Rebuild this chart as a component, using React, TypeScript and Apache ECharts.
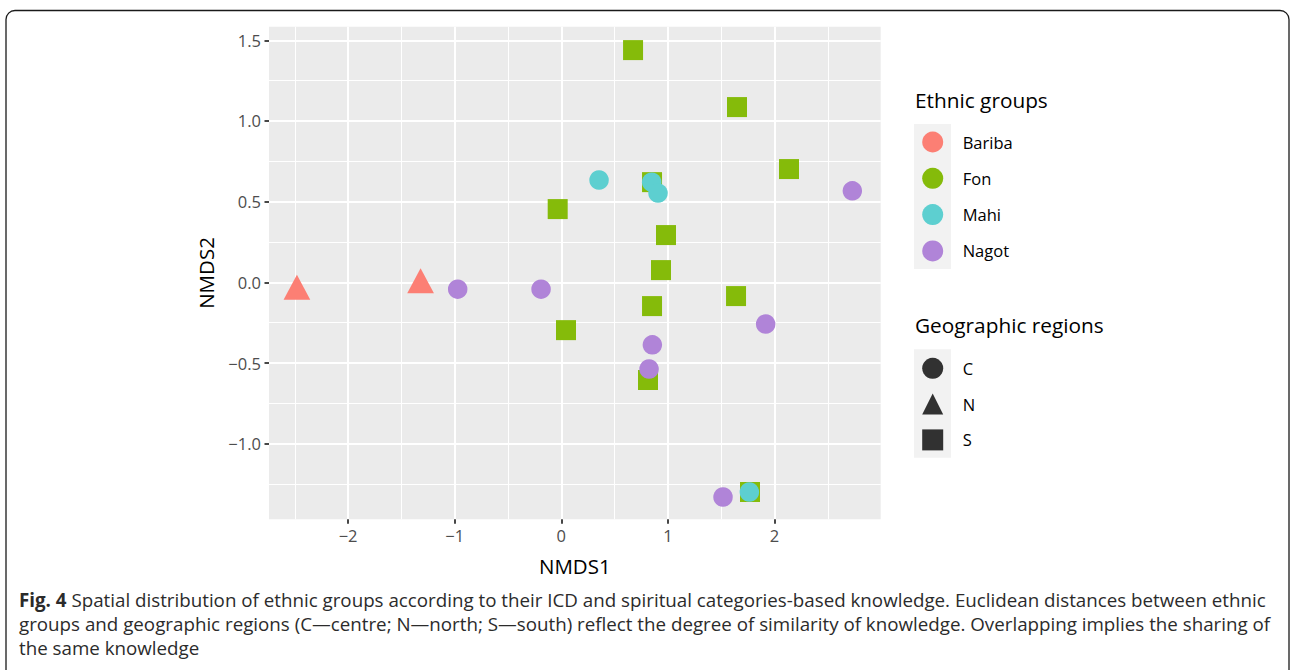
import React, { useEffect, useRef } from "react";
import * as echarts from "echarts";

// ---- data ----
const GROUPS = ["Bariba", "Fon", "Mahi", "Nagot"];
const GROUP_COLORS = ["#FC7F74", "#85BB0A", "#5DCFD0", "#B084D8"];
const GROUP_SYMBOLS = ["triangle", "rect", "circle", "circle"];
const REGIONS = ["C", "N", "S"];
const REGION_SYMBOLS = ["circle", "triangle", "rect"];

const baribaPoints = [
  [-2.48, -0.03],
  [-1.32, 0.01],
];
const fonPoints = [
  [0.673, 1.439],
  [1.648, 1.086],
  [2.136, 0.702],
  [0.851, 0.621],
  [-0.034, 0.454],
  [0.982, 0.293],
  [0.935, 0.076],
  [0.851, -0.147],
  [1.639, -0.085],
  [0.044, -0.296],
  [0.813, -0.605],
  [1.77, -1.299],
];
const mahiPoints = [
  [0.354, 0.634],
  [0.848, 0.621],
  [0.907, 0.553],
  [1.764, -1.299],
];
const nagotPoints = [
  [-0.972, -0.042],
  [-0.19, -0.042],
  [2.73, 0.567],
  [1.917, -0.258],
  [0.854, -0.387],
  [0.823, -0.537],
  [1.517, -1.33],
];
const GROUP_DATA = [baribaPoints, fonPoints, mahiPoints, nagotPoints];

const X_MIN = -2.742;
const X_MAX = 2.996;
const Y_MIN = -1.468;
const Y_MAX = 1.584;
const X_TICKS = [-2, -1, 0, 1, 2];
const X_MINOR = [-2.5, -1.5, -0.5, 0.5, 1.5, 2.5];
const Y_TICKS = [-1, -0.5, 0, 0.5, 1, 1.5];
const Y_MINOR = [-1.25, -0.75, -0.25, 0.25, 0.75, 1.25];

const CAPTION_LINES = [
  "Spatial distribution of ethnic groups according to their ICD and spiritual categories-based knowledge. Euclidean distances between ethnic",
  "groups and geographic regions (C\u2014centre; N\u2014north; S\u2014south) reflect the degree of similarity of knowledge. Overlapping implies the sharing of",
  "the same knowledge",
];

const FONT = "'Open Sans', 'Noto Sans', sans-serif";
const minus = (s: string) => s.replace("-", "\u2212");

export default function App() {
  const ref = useRef<HTMLDivElement>(null);

  useEffect(() => {
    if (!ref.current) return;
    const chart = echarts.init(ref.current, undefined, { renderer: "svg" });

    const gridL = 269;
    const gridT = 26.7;
    const gridW = 611.7;
    const gridH = 492.6;

    const tickStyle = { show: true, length: 4.5, lineStyle: { color: "#333333", width: 1.8 } };
    const noLine = { show: false, onZero: false };

    const groupSeries = GROUPS.map((g, i) => ({
      name: g,
      type: "scatter",
      xAxisIndex: 0,
      yAxisIndex: 0,
      data: GROUP_DATA[i],
      symbol: GROUP_SYMBOLS[i],
      symbolSize: GROUP_SYMBOLS[i] === "triangle" ? [26.7, 25] : GROUP_SYMBOLS[i] === "rect" ? 20 : 19.5,
      itemStyle: { color: GROUP_COLORS[i], opacity: 1 },
      z: 3,
      silent: true,
    }));

    const regionSeries = REGIONS.map((r, i) => ({
      name: r,
      type: "scatter",
      xAxisIndex: 0,
      yAxisIndex: 0,
      data: [],
      symbol: REGION_SYMBOLS[i],
      itemStyle: { color: "#000000" },
    }));

    const option: any = {
      animation: false,
      backgroundColor: "#ffffff",
      textStyle: { fontFamily: FONT },
      grid: {
        left: gridL,
        top: gridT,
        width: gridW,
        height: gridH,
        show: true,
        backgroundColor: "#EBEBEB",
        borderWidth: 0,
        containLabel: false,
        outerBoundsMode: "none",
      },
      xAxis: [
        {
          type: "value",
          gridIndex: 0,
          min: X_MIN,
          max: X_MAX,
          position: "bottom",
          axisLine: noLine,
          axisTick: { ...tickStyle, customValues: X_TICKS },
          axisLabel: {
            customValues: X_TICKS,
            margin: 8,
            fontSize: 16.5,
            color: "#4D4D4D",
            fontFamily: FONT,
            formatter: (v: number) => minus(String(v)),
          },
          splitLine: { show: true, lineStyle: { color: "#ffffff", width: 2 } },
          name: "NMDS1",
          nameLocation: "middle",
          nameGap: 36,
          nameTextStyle: { fontSize: 20.5, color: "#000000", fontFamily: FONT },
        },
        {
          type: "value",
          gridIndex: 0,
          min: X_MIN,
          max: X_MAX,
          position: "bottom",
          axisLine: noLine,
          axisTick: { show: false, customValues: X_MINOR },
          axisLabel: { show: false, customValues: X_MINOR },
          splitLine: { show: true, lineStyle: { color: "#ffffff", width: 1 } },
        },
      ],
      yAxis: [
        {
          type: "value",
          gridIndex: 0,
          min: Y_MIN,
          max: Y_MAX,
          position: "left",
          axisLine: noLine,
          axisTick: { ...tickStyle, customValues: Y_TICKS },
          axisLabel: {
            customValues: Y_TICKS,
            margin: 8,
            fontSize: 16.5,
            color: "#4D4D4D",
            fontFamily: FONT,
            formatter: (v: number) => minus(v.toFixed(1)),
          },
          splitLine: { show: true, lineStyle: { color: "#ffffff", width: 2 } },
          name: "NMDS2",
          nameLocation: "middle",
          nameGap: 53,
          nameRotate: 90,
          nameTextStyle: { fontSize: 20.5, color: "#000000", fontFamily: FONT },
        },
        {
          type: "value",
          gridIndex: 0,
          min: Y_MIN,
          max: Y_MAX,
          position: "left",
          axisLine: noLine,
          axisTick: { show: false, customValues: Y_MINOR },
          axisLabel: { show: false, customValues: Y_MINOR },
          splitLine: { show: true, lineStyle: { color: "#ffffff", width: 1 } },
        },
      ],
      legend: [
        {
          data: GROUPS,
          orient: "vertical",
          left: 922.2,
          top: 131.5,
          padding: 0,
          icon: "circle",
          itemWidth: 21,
          itemHeight: 21,
          itemGap: 15.3,
          selectedMode: false,
          textStyle: { fontSize: 16.5, color: "#000000", fontFamily: FONT, padding: [0, 0, 0, 14.5] },
        },
        {
          data: REGIONS,
          orient: "vertical",
          left: 922.2,
          top: 357.8,
          padding: 0,
          itemWidth: 21,
          itemHeight: 21,
          itemGap: 14.8,
          selectedMode: false,
          textStyle: { fontSize: 16.5, color: "#000000", fontFamily: FONT, padding: [0, 0, 0, 14.5] },
        },
      ],
      graphic: [
        {
          type: "rect",
          z: -10,
          silent: true,
          shape: { x: 6, y: 10.5, width: 1283, height: 700, r: [9, 9, 0, 0] },
          style: { fill: "none", stroke: "#1a1a1a", lineWidth: 1.3 },
        },
        {
          type: "rect",
          z: -5,
          silent: true,
          shape: { x: 914, y: 124, width: 37, height: 145 },
          style: { fill: "#F2F2F2" },
        },
        {
          type: "rect",
          z: -5,
          silent: true,
          shape: { x: 914, y: 349.3, width: 37, height: 108.4 },
          style: { fill: "#F2F2F2" },
        },
        {
          type: "text",
          left: 915,
          top: 89.5,
          silent: true,
          style: { text: "Ethnic groups", fontSize: 20.8, fill: "#000000", fontFamily: FONT },
        },
        {
          type: "text",
          left: 915,
          top: 314.5,
          silent: true,
          style: { text: "Geographic regions", fontSize: 20.8, fill: "#000000", fontFamily: FONT },
        },
        ...CAPTION_LINES.map((line, i) => ({
          type: "text",
          left: 19,
          top: 589.5 + i * 24,
          silent: true,
          style: {
            text: i === 0 ? "{b|Fig. 4} " + line : line,
            fontSize: 18.75,
            fill: "#2b2b2b",
            fontFamily: FONT,
            rich: { b: { fontWeight: "bold", fontSize: 18.75, fill: "#2b2b2b", fontFamily: FONT } },
          },
        })),
      ],
      series: [...groupSeries, ...regionSeries],
    };

    chart.setOption(option);
    return () => chart.dispose();
  }, []);

  return (
    <div
      ref={ref}
      style={{ position: "fixed", left: 0, top: 0, width: 1292, height: 670, background: "#fff" }}
    />
  );
}
